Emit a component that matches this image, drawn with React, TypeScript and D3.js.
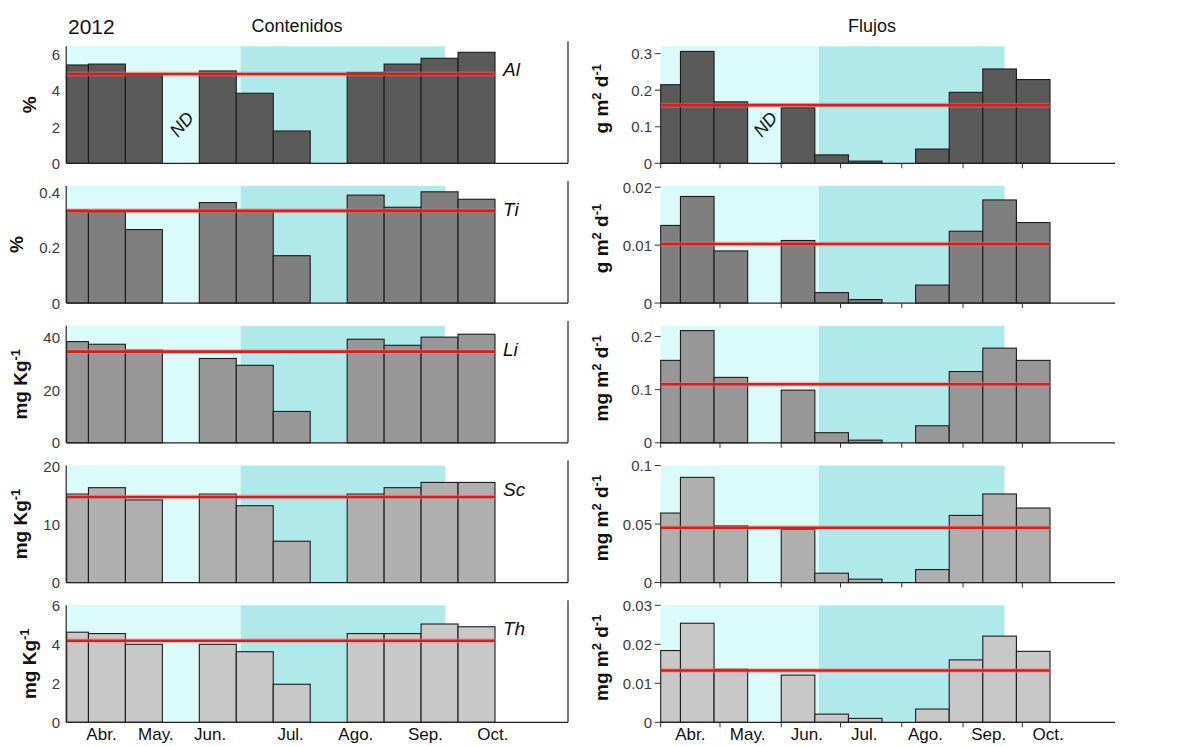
import React from "react";
import * as d3 from "d3";

// Sampling intervals of the sediment trap (12 intervals, two without data)
const sampleEdges = [
  "2012-04-01", "2012-04-11", "2012-04-28", "2012-05-15", "2012-06-01", "2012-06-18",
  "2012-07-05", "2012-07-22", "2012-08-08", "2012-08-25", "2012-09-11", "2012-09-28", "2012-10-15",
];

// Interval flagged as "no data" in the top row
const ndInterval = 3;

// Seasons shaded behind the bars
const springSpan = ["2012-04-01", "2012-06-20"];
const summerSpan = ["2012-06-20", "2012-09-22"];

// Month axis
const monthNames = ["Abr.", "May.", "Jun.", "Jul.", "Ago.", "Sep.", "Oct."];
const monthTicks = ["2012-04-01", "2012-05-01", "2012-06-01", "2012-07-01", "2012-08-01", "2012-09-01", "2012-10-01"];
const contentLabelDates = ["2012-04-17", "2012-05-12", "2012-06-06", "2012-07-13", "2012-08-12", "2012-09-13", "2012-10-14"];
const fluxLabelDates = ["2012-04-16", "2012-05-15", "2012-06-14", "2012-07-13", "2012-08-13", "2012-09-14", "2012-10-14"];

// Elements (one row each)
const elements = ["Al", "Ti", "Li", "Sc", "Th"];

// Contents (left column)
const alContent = [5.42, 5.47, 4.83, null, 5.09, 3.86, 1.78, null, 5.01, 5.47, 5.79, 6.12];
const tiContent = [0.337, 0.331, 0.267, null, 0.365, 0.333, 0.172, null, 0.392, 0.348, 0.404, 0.377];
const liContent = [38.4, 37.4, 35.2, null, 32.0, 29.4, 11.9, null, 39.3, 37.0, 40.1, 41.2];
const scContent = [15.2, 16.3, 14.2, null, 15.2, 13.2, 7.1, null, 15.2, 16.3, 17.2, 17.2];
const thContent = [4.62, 4.55, 4.0, null, 4.0, 3.62, 1.95, null, 4.55, 4.55, 5.04, 4.9];
const contentMeans = [4.92, 0.335, 34.6, 14.7, 4.18];
const contentMax = [6.45, 0.425, 44.4, 20.1, 6.0];
const contentTicks = [[0, 2, 4, 6], [0, 0.2, 0.4], [0, 20, 40], [0, 10, 20], [0, 2, 4, 6]];

// Fluxes (right column)
const alFlux = [0.215, 0.306, 0.168, null, 0.152, 0.023, 0.006, null, 0.039, 0.194, 0.258, 0.229];
const tiFlux = [0.0134, 0.0184, 0.009, null, 0.0108, 0.0018, 0.0006, null, 0.0031, 0.0124, 0.0178, 0.0139];
const liFlux = [0.155, 0.211, 0.123, null, 0.099, 0.019, 0.005, null, 0.032, 0.134, 0.178, 0.155];
const scFlux = [0.0594, 0.0899, 0.0485, null, 0.0454, 0.008, 0.0029, null, 0.0111, 0.0574, 0.0757, 0.0637];
const thFlux = [0.0184, 0.0254, 0.0136, null, 0.0121, 0.0021, 0.001, null, 0.0034, 0.016, 0.0221, 0.0182];
const fluxMeans = [0.159, 0.0102, 0.11, 0.0468, 0.0133];
const fluxMax = [0.32, 0.0202, 0.22, 0.1, 0.03];
const fluxTicks = [[0, 0.1, 0.2, 0.3], [0, 0.01, 0.02], [0, 0.1, 0.2], [0, 0.05, 0.1], [0, 0.01, 0.02, 0.03]];

// Axis titles: [text, superscript?]
const contentUnits: [string, boolean][][] = [
  [["%", false]],
  [["%", false]],
  [["mg Kg", false], ["-1", true]],
  [["mg Kg", false], ["-1", true]],
  [["mg Kg", false], ["-1", true]],
];
const fluxUnits: [string, boolean][][] = [
  [["g m", false], ["2", true], [" d", false], ["-1", true]],
  [["g m", false], ["2", true], [" d", false], ["-1", true]],
  [["mg m", false], ["2", true], [" d", false], ["-1", true]],
  [["mg m", false], ["2", true], [" d", false], ["-1", true]],
  [["mg m", false], ["2", true], [" d", false], ["-1", true]],
];

const contentSeries = [alContent, tiContent, liContent, scContent, thContent];
const fluxSeries = [alFlux, tiFlux, liFlux, scFlux, thFlux];
const barFills = ["#5a5a5a", "#7f7f7f", "#979797", "#afafaf", "#c8c8c8"];

const parse = d3.timeParse("%Y-%m-%d");
const edges = sampleEdges.map((s) => parse(s) as Date);
const FONT = "'Liberation Sans', Arial, sans-serif";
const fmt = d3.format("~g");

const W = 1177;
const H = 746;
const ROW0_ZERO = 163.3;
const ROW_STEP = 139.75;
const PLOT_H = 117;

const leftX = d3.scaleTime().domain([edges[0], edges[edges.length - 1]]).range([66.7, 495]);
const rightX = d3.scaleTime().domain([edges[0], edges[edges.length - 1]]).range([660.7, 1050]);

function Unit({ parts, x, y, size }: { parts: [string, boolean][]; x: number; y: number; size: number }) {
  return (
    <text
      transform={`translate(${x},${y}) rotate(-90)`}
      textAnchor="middle"
      fontFamily={FONT}
      fontWeight="bold"
      fontSize={size}
      fill="#111"
    >
      {parts.map(([t, sup], i) => (
        <tspan key={i} fontSize={sup ? size * 0.68 : size} baselineShift={sup ? "super" : undefined}>
          {t}
        </tspan>
      ))}
    </text>
  );
}

function Panel({
  row, side, values, mean, max, ticks, unit,
}: {
  row: number; side: "left" | "right"; values: (number | null)[]; mean: number; max: number;
  ticks: number[]; unit: [string, boolean][];
}) {
  const zero = ROW0_ZERO + ROW_STEP * row;
  const top = zero - PLOT_H;
  const x = side === "left" ? leftX : rightX;
  const y = d3.scaleLinear().domain([0, max]).range([zero, top]);
  const x0 = x(edges[0]);
  const xEnd = x(edges[edges.length - 1]);
  const axisEnd = side === "left" ? 568 : 1115;
  const spring = springSpan.map((s) => x(parse(s) as Date));
  const summer = summerSpan.map((s) => x(parse(s) as Date));
  const labelRight = side === "left" ? 60 : 652;
  const maxLabelW = d3.max(ticks, (t) => fmt(t).split("").reduce((a, c) => a + (c === "." ? 4.2 : 8.3), 0)) as number;
  const titleX = side === "left" ? 60 - maxLabelW - 16 : 608;
  const titleY = side === "left" ? (top + zero) / 2 : (top + zero) / 2 - 6;
  const labelDates = side === "left" ? contentLabelDates : fluxLabelDates;

  return (
    <g>
      <rect x={spring[0]} y={top} width={spring[1] - spring[0]} height={PLOT_H} fill="#dbfafa" />
      <rect x={summer[0]} y={top} width={summer[1] - summer[0]} height={PLOT_H} fill="#afe9ea" />
      {values.map((v, i) =>
        v == null ? null : (
          <rect
            key={i}
            x={x(edges[i])}
            y={y(v)}
            width={x(edges[i + 1]) - x(edges[i])}
            height={zero - y(v)}
            fill={barFills[row]}
            stroke="#1c1c1c"
            strokeWidth={1.1}
          />
        )
      )}
      {row === 0 ? (
        <text
          transform={`translate(${(x(edges[ndInterval]) + x(edges[ndInterval + 1])) / 2 + 1},${zero - 39}) rotate(-50)`}
          textAnchor="middle"
          dominantBaseline="central"
          fontFamily={FONT}
          fontStyle="italic"
          fontSize={18}
          fill="#111"
        >
          ND
        </text>
      ) : null}
      <line x1={x0} x2={xEnd} y1={y(mean)} y2={y(mean)} stroke="#f08080" strokeOpacity={0.45} strokeWidth={5} />
      <line x1={x0} x2={xEnd} y1={y(mean)} y2={y(mean)} stroke="#d91c1c" strokeWidth={2.6} />
      {/* axes */}
      <line x1={x0} x2={axisEnd} y1={zero} y2={zero} stroke="#222" strokeWidth={1.2} />
      {side === "left" ? (
        <>
          <line x1={x0 - 0.5} x2={x0 - 0.5} y1={top} y2={zero} stroke="#222" strokeWidth={1.2} />
          <line x1={axisEnd} x2={axisEnd} y1={top - 5} y2={zero} stroke="#222" strokeWidth={1.2} />
        </>
      ) : (
        <>
          {ticks.map((t) => (
            <line key={"yt" + t} x1={x0 - 6} x2={x0} y1={y(t)} y2={y(t)} stroke="#333" strokeWidth={1} />
          ))}
          {monthTicks.map((m) => {
            const xx = x(parse(m) as Date);
            return <line key={"xt" + m} x1={xx} x2={xx} y1={zero} y2={zero + 5} stroke="#333" strokeWidth={1} />;
          })}
        </>
      )}
      {ticks.map((t) => (
        <text
          key={"yl" + t}
          x={labelRight}
          y={y(t)}
          textAnchor="end"
          dominantBaseline="central"
          fontFamily={FONT}
          fontSize={15}
          fill="#3a3a3a"
        >
          {fmt(t)}
        </text>
      ))}
      <Unit parts={unit} x={titleX} y={titleY} size={19} />
      {side === "left" ? (
        <text x={503} y={top + 30} fontFamily={FONT} fontStyle="italic" fontSize={19} fill="#111">
          {elements[row]}
        </text>
      ) : null}
      {row === 4
        ? monthNames.map((m, i) => (
            <text
              key={"ml" + m}
              x={x(parse(labelDates[i]) as Date)}
              y={740}
              textAnchor="middle"
              fontFamily={FONT}
              fontSize={17}
              fill="#111"
            >
              {m}
            </text>
          ))
        : null}
    </g>
  );
}

export default function App() {
  return (
    <svg
      width={W}
      height={H}
      viewBox={`0 0 ${W} ${H}`}
      style={{ position: "absolute", left: 0, top: 0, background: "#fff" }}
    >
      <rect width={W} height={H} fill="#fff" />
      <text x={68} y={34} fontFamily={FONT} fontSize={21} fill="#111">2012</text>
      <text x={297} y={32} textAnchor="middle" fontFamily={FONT} fontSize={18} fill="#111">Contenidos</text>
      <text x={872} y={32} textAnchor="middle" fontFamily={FONT} fontSize={18} fill="#111">Flujos</text>
      {elements.map((el, r) => (
        <g key={el}>
          <Panel
            row={r}
            side="left"
            values={contentSeries[r]}
            mean={contentMeans[r]}
            max={contentMax[r]}
            ticks={contentTicks[r]}
            unit={contentUnits[r]}
          />
          <Panel
            row={r}
            side="right"
            values={fluxSeries[r]}
            mean={fluxMeans[r]}
            max={fluxMax[r]}
            ticks={fluxTicks[r]}
            unit={fluxUnits[r]}
          />
        </g>
      ))}
    </svg>
  );
}
